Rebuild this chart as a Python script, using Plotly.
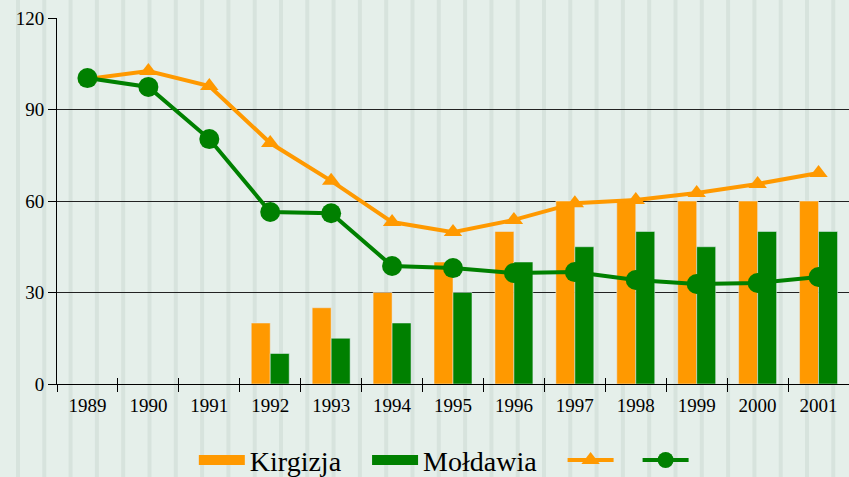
import plotly.graph_objects as go

years = ["1989", "1990", "1991", "1992", "1993", "1994", "1995",
         "1996", "1997", "1998", "1999", "2000", "2001"]
kirg_bars = [None, None, None, 20, 25, 30, 40, 50, 60, 60, 60, 60, 60]
mold_bars = [None, None, None, 10, 15, 20, 30, 40, 45, 50, 45, 50, 50]
kirg_line = [100, 102.6, 97.7, 79, 66.6, 53.1, 49.8, 53.8, 59.3, 60.3, 62.6, 65.6, 69.2]
mold_line = [100.3, 97.4, 80.3, 56.4, 56, 38.7, 38, 36.4, 36.7, 34.1, 32.8, 33.1, 35.1]
y_ticks = [0, 30, 60, 90, 120]

ORANGE = "#FF9900"
GREEN = "#008000"
FONT = "Liberation Serif, Times New Roman, DejaVu Serif, serif"
NB = "\u00a0"

fig = go.Figure()
fig.add_trace(go.Bar(x=years, y=kirg_bars, marker_color=ORANGE, name="Kirgizja", showlegend=False))
fig.add_trace(go.Bar(x=years, y=mold_bars, marker_color=GREEN, name="Mołdawia", showlegend=False))
# legend entries for bars (wide rectangles)
fig.add_trace(go.Scatter(x=[None], y=[None], mode="lines", line=dict(color=ORANGE, width=15),
                         name="Kirgizja" + NB * 3))
fig.add_trace(go.Scatter(x=[None], y=[None], mode="lines", line=dict(color=GREEN, width=15),
                         name="Mołdawia" + NB * 3))
fig.add_trace(go.Scatter(x=years, y=kirg_line, mode="lines+markers", name=NB * 2,
                         line=dict(color=ORANGE, width=4),
                         marker=dict(symbol="triangle-up", size=16, color=ORANGE)))
fig.add_trace(go.Scatter(x=years, y=mold_line, mode="lines+markers", name=NB,
                         line=dict(color=GREEN, width=4),
                         marker=dict(symbol="circle", size=20, color=GREEN)))
# helper trace for the inner half of the crossing x ticks
fig.add_trace(go.Scatter(x=[None], y=[None], xaxis="x2", showlegend=False, hoverinfo="skip"))

# background stripes (decorative)
shapes = []
for i in range(32):
    x0 = 16 + i * 26.3
    shapes.append(dict(type="rect", xref="paper", yref="paper", layer="below",
                       x0=(x0 - 57) / 792, x1=(x0 + 4 - 57) / 792, y0=-1, y1=2,
                       fillcolor="#d7e3dd", line=dict(width=0)))

fig.update_layout(
    width=849, height=477,
    margin=dict(l=57, r=0, t=18, b=93),
    paper_bgcolor="#e5efea", plot_bgcolor="rgba(0,0,0,0)",
    barmode="group", bargap=0.377, bargroupgap=0,
    font=dict(family=FONT, color="black"),
    shapes=shapes,
    xaxis=dict(type="category", tickson="boundaries", ticks="outside", ticklen=7,
               tickcolor="black", showline=True, linecolor="black", linewidth=1,
               showgrid=False, tickfont=dict(family=FONT, size=19, color="black"),
               range=[-0.5, 12.5], ticklabelstandoff=4),
    xaxis2=dict(overlaying="x", anchor="y", side="bottom", range=[-0.5, 12.5],
                tickvals=[i - 0.5 for i in range(14)], ticks="inside", ticklen=6,
                tickcolor="black", showticklabels=False, showgrid=False,
                zeroline=False, showline=False),
    yaxis=dict(range=[0, 120], tickvals=y_ticks, ticks="outside", ticklen=8,
               tickcolor="black", showline=True, linecolor="black", linewidth=1,
               showgrid=True, gridcolor="#222", gridwidth=1, zeroline=False,
               tickfont=dict(family=FONT, size=19, color="black")),
    legend=dict(orientation="h", x=0.496, xanchor="center",
                yref="container", y=0.035, yanchor="middle",
                font=dict(family=FONT, size=28, color="black"),
                bgcolor="rgba(0,0,0,0)", itemwidth=46),
)

fig.write_html("out.html", config={"displayModeBar": False},
               post_script="document.body.style.margin='0';document.body.style.overflow='hidden';")
